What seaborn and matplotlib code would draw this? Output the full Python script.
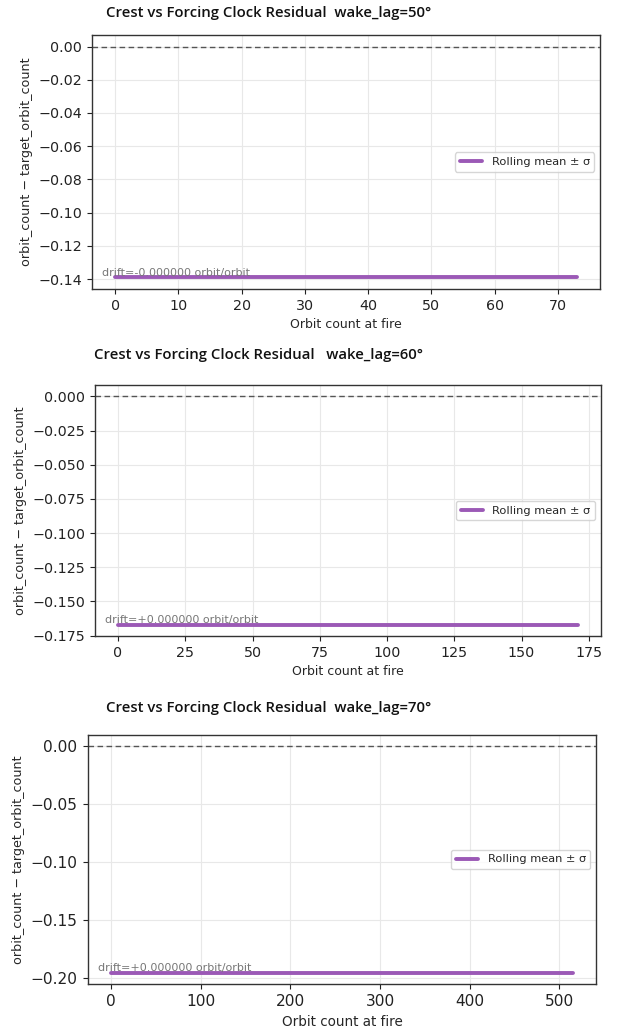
import numpy as np
import pandas as pd
import matplotlib
matplotlib.use("Agg")
import matplotlib.pyplot as plt
from matplotlib.ticker import MultipleLocator
import seaborn as sns

# Per-run settings and results
wake_lags = [50, 60, 70]
title_gaps = ["  ", "   ", "  "]
orbit_last = [73, 171, 515]
residual_mean = [-0.139, -0.167, -0.195]
y_steps = [0.02, 0.025, 0.05]
drift_labels = ["drift=-0.000000 orbit/orbit",
                "drift=+0.000000 orbit/orbit",
                "drift=+0.000000 orbit/orbit"]

sns.set_style("ticks", {
    "axes.grid": True,
    "grid.color": "#e8e8e8",
    "axes.edgecolor": "#333333",
    "xtick.color": "#222222",
    "ytick.color": "#222222",
})
plt.rcParams["font.family"] = ["DejaVu Sans"]

LINE_COLOR = "#9b59b6"
W, H = 624, 1032
fig = plt.figure(figsize=(W / 100, H / 100), dpi=100)

# axes boxes in pixels: left, top, right, bottom
boxes = [(92, 35, 600, 289), (95, 385, 601, 636), (88, 735, 596, 984)]
scales = [1.0, 1.0, 1.08]
title_y = [13, 355, 708]
title_x = [269, 258, 269]

for i, lag in enumerate(wake_lags):
    l, t, r, b = boxes[i]
    k = scales[i]
    ax = fig.add_axes([l / W, 1 - b / H, (r - l) / W, (b - t) / H])
    orbits = np.arange(0, orbit_last[i] + 1)
    df = pd.DataFrame({"orbit": orbits,
                       "resid": np.full(orbits.shape, residual_mean[i])})
    ax.axhline(0.0, color="#555555", lw=1.0, ls=(0, (4, 2.5)), zorder=1)
    sns.lineplot(data=df, x="orbit", y="resid", ax=ax, color=LINE_COLOR,
                 lw=2.8, label="Rolling mean ± σ", zorder=3)
    ax.yaxis.set_major_locator(MultipleLocator(y_steps[i]))
    ax.grid(True, color="#e8e8e8", lw=0.8)
    for s in ax.spines.values():
        s.set_linewidth(1.0)
    ax.tick_params(labelsize=10.3 * k, length=3.5 * k, width=0.8,
                   pad=3.5 * k)
    ax.set_xlabel("Orbit count at fire", fontsize=9 * k)
    ax.set_ylabel("orbit_count − target_orbit_count", fontsize=9.2)
    ax.text(0.02, 0.045, drift_labels[i], transform=ax.transAxes,
            fontsize=8, color="#777777", va="bottom", ha="left", zorder=4)
    leg = ax.legend(loc="center right", fontsize=8.2, frameon=True,
                    handlelength=2.0, borderpad=0.4)
    leg.get_frame().set_edgecolor("#cccccc")
    fig.text(title_x[i] / W, 1 - title_y[i] / H,
             f"Crest vs Forcing Clock Residual{title_gaps[i]}wake_lag={lag}°",
             ha="center", va="center", fontsize=10.7, fontweight="semibold",
             family=["Open Sans", "DejaVu Sans"], color="#111111")

fig.savefig("out.png", dpi=100)
